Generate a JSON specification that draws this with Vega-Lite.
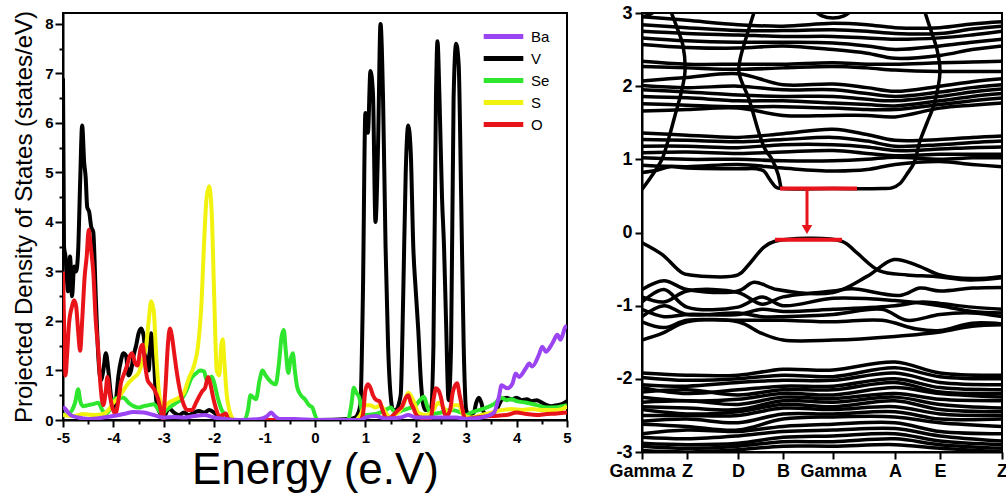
{
"$schema": "https://vega.github.io/schema/vega-lite/v6.json",
"background": "white",
"padding": {"left": 11, "top": 3, "right": 0, "bottom": 0},
"spacing": 34,
"config": {
  "view": {"stroke": "black", "strokeWidth": 2},
  "axis": {"domainColor": "black", "domainWidth": 2, "tickColor": "black", "tickWidth": 2, "labelColor": "black", "titleColor": "black", "labelFont": "Liberation Sans", "titleFont": "Liberation Sans", "labelFontWeight": "bold", "grid": false, "labelFlush": false, "labelOverlap": false, "labelBound": false}
},
"hconcat": [
{
  "width": 504, "height": 407,
  "data": {"values": [
{"s":"V","e":-5.0,"d":6.9},{"s":"V","e":-4.98,"d":3.5},{"s":"V","e":-4.95,"d":3.3},{"s":"V","e":-4.9,"d":2.6},{"s":"V","e":-4.86,"d":3.3},{"s":"V","e":-4.82,"d":2.5},{"s":"V","e":-4.78,"d":3.1},{"s":"V","e":-4.74,"d":3.0},{"s":"V","e":-4.7,"d":3.4},{"s":"V","e":-4.66,"d":4.8},{"s":"V","e":-4.62,"d":5.95},{"s":"V","e":-4.58,"d":5.2},{"s":"V","e":-4.55,"d":4.9},{"s":"V","e":-4.52,"d":4.3},{"s":"V","e":-4.48,"d":4.2},{"s":"V","e":-4.44,"d":3.9},{"s":"V","e":-4.4,"d":3.8},{"s":"V","e":-4.35,"d":2.5},{"s":"V","e":-4.3,"d":1.3},{"s":"V","e":-4.25,"d":0.8},{"s":"V","e":-4.2,"d":1.0},{"s":"V","e":-4.15,"d":1.35},{"s":"V","e":-4.1,"d":1.0},{"s":"V","e":-4.05,"d":0.5},{"s":"V","e":-4.0,"d":0.25},{"s":"V","e":-3.95,"d":0.4},{"s":"V","e":-3.9,"d":0.9},{"s":"V","e":-3.85,"d":1.2},{"s":"V","e":-3.8,"d":1.35},{"s":"V","e":-3.75,"d":1.3},{"s":"V","e":-3.7,"d":0.9},{"s":"V","e":-3.65,"d":1.0},{"s":"V","e":-3.6,"d":1.3},{"s":"V","e":-3.55,"d":1.5},{"s":"V","e":-3.5,"d":1.75},{"s":"V","e":-3.45,"d":1.85},{"s":"V","e":-3.4,"d":1.7},{"s":"V","e":-3.35,"d":1.2},{"s":"V","e":-3.3,"d":1.0},{"s":"V","e":-3.25,"d":1.75},{"s":"V","e":-3.2,"d":1.3},{"s":"V","e":-3.15,"d":0.4},{"s":"V","e":-3.1,"d":0.2},{"s":"V","e":-3.05,"d":0.1},{"s":"V","e":-3.0,"d":0.05},{"s":"V","e":-2.95,"d":0.15},{"s":"V","e":-2.9,"d":0.25},{"s":"V","e":-2.85,"d":0.2},{"s":"V","e":-2.8,"d":0.15},{"s":"V","e":-2.7,"d":0.1},{"s":"V","e":-2.6,"d":0.15},{"s":"V","e":-2.5,"d":0.1},{"s":"V","e":-2.4,"d":0.15},{"s":"V","e":-2.3,"d":0.18},{"s":"V","e":-2.2,"d":0.15},{"s":"V","e":-2.1,"d":0.2},{"s":"V","e":-2.0,"d":0.15},{"s":"V","e":-1.9,"d":0.05},{"s":"V","e":-1.8,"d":0.02},{"s":"V","e":-1.6,"d":0.0},{"s":"V","e":0.0,"d":0.0},{"s":"V","e":0.7,"d":0.02},{"s":"V","e":0.8,"d":0.05},{"s":"V","e":0.9,"d":0.3},{"s":"V","e":0.95,"d":2.5},{"s":"V","e":1.0,"d":6.2},{"s":"V","e":1.05,"d":5.8},{"s":"V","e":1.1,"d":7.05},{"s":"V","e":1.15,"d":6.6},{"s":"V","e":1.2,"d":4.0},{"s":"V","e":1.25,"d":5.5},{"s":"V","e":1.3,"d":8.0},{"s":"V","e":1.35,"d":6.5},{"s":"V","e":1.4,"d":3.5},{"s":"V","e":1.45,"d":1.5},{"s":"V","e":1.5,"d":0.5},{"s":"V","e":1.55,"d":0.2},{"s":"V","e":1.6,"d":0.2},{"s":"V","e":1.7,"d":0.5},{"s":"V","e":1.75,"d":2.5},{"s":"V","e":1.8,"d":5.0},{"s":"V","e":1.85,"d":5.95},{"s":"V","e":1.9,"d":5.4},{"s":"V","e":1.95,"d":3.5},{"s":"V","e":2.0,"d":2.6},{"s":"V","e":2.05,"d":1.8},{"s":"V","e":2.1,"d":0.8},{"s":"V","e":2.15,"d":0.3},{"s":"V","e":2.2,"d":0.2},{"s":"V","e":2.3,"d":0.25},{"s":"V","e":2.35,"d":1.5},{"s":"V","e":2.4,"d":6.5},{"s":"V","e":2.43,"d":7.65},{"s":"V","e":2.47,"d":6.5},{"s":"V","e":2.52,"d":4.5},{"s":"V","e":2.56,"d":3.5},{"s":"V","e":2.6,"d":2.0},{"s":"V","e":2.65,"d":0.4},{"s":"V","e":2.7,"d":1.5},{"s":"V","e":2.75,"d":6.5},{"s":"V","e":2.8,"d":7.6},{"s":"V","e":2.85,"d":7.2},{"s":"V","e":2.9,"d":4.5},{"s":"V","e":2.95,"d":1.5},{"s":"V","e":3.0,"d":0.2},{"s":"V","e":3.05,"d":0.1},{"s":"V","e":3.15,"d":0.15},{"s":"V","e":3.2,"d":0.35},{"s":"V","e":3.25,"d":0.45},{"s":"V","e":3.3,"d":0.35},{"s":"V","e":3.35,"d":0.15},{"s":"V","e":3.45,"d":0.1},{"s":"V","e":3.6,"d":0.2},{"s":"V","e":3.7,"d":0.4},{"s":"V","e":3.8,"d":0.45},{"s":"V","e":3.9,"d":0.42},{"s":"V","e":4.0,"d":0.45},{"s":"V","e":4.1,"d":0.4},{"s":"V","e":4.2,"d":0.42},{"s":"V","e":4.3,"d":0.38},{"s":"V","e":4.4,"d":0.4},{"s":"V","e":4.5,"d":0.35},{"s":"V","e":4.6,"d":0.3},{"s":"V","e":4.7,"d":0.28},{"s":"V","e":4.8,"d":0.3},{"s":"V","e":4.9,"d":0.32},{"s":"V","e":5.0,"d":0.38},
{"s":"Se","e":-5.0,"d":0.1},{"s":"Se","e":-4.9,"d":0.12},{"s":"Se","e":-4.82,"d":0.2},{"s":"Se","e":-4.76,"d":0.35},{"s":"Se","e":-4.7,"d":0.62},{"s":"Se","e":-4.65,"d":0.35},{"s":"Se","e":-4.6,"d":0.28},{"s":"Se","e":-4.5,"d":0.3},{"s":"Se","e":-4.4,"d":0.32},{"s":"Se","e":-4.3,"d":0.35},{"s":"Se","e":-4.22,"d":0.2},{"s":"Se","e":-4.15,"d":0.12},{"s":"Se","e":-4.05,"d":0.25},{"s":"Se","e":-3.98,"d":0.42},{"s":"Se","e":-3.9,"d":0.45},{"s":"Se","e":-3.8,"d":0.45},{"s":"Se","e":-3.7,"d":0.35},{"s":"Se","e":-3.6,"d":0.28},{"s":"Se","e":-3.5,"d":0.25},{"s":"Se","e":-3.4,"d":0.28},{"s":"Se","e":-3.3,"d":0.3},{"s":"Se","e":-3.2,"d":0.32},{"s":"Se","e":-3.1,"d":0.2},{"s":"Se","e":-3.03,"d":0.12},{"s":"Se","e":-2.95,"d":0.2},{"s":"Se","e":-2.85,"d":0.28},{"s":"Se","e":-2.75,"d":0.35},{"s":"Se","e":-2.65,"d":0.42},{"s":"Se","e":-2.55,"d":0.6},{"s":"Se","e":-2.45,"d":0.85},{"s":"Se","e":-2.35,"d":0.95},{"s":"Se","e":-2.28,"d":1.0},{"s":"Se","e":-2.2,"d":0.98},{"s":"Se","e":-2.15,"d":0.8},{"s":"Se","e":-2.1,"d":0.82},{"s":"Se","e":-2.05,"d":0.88},{"s":"Se","e":-2.0,"d":0.75},{"s":"Se","e":-1.93,"d":0.45},{"s":"Se","e":-1.85,"d":0.2},{"s":"Se","e":-1.75,"d":0.08},{"s":"Se","e":-1.65,"d":0.0},{"s":"Se","e":-1.4,"d":0.0},{"s":"Se","e":-1.33,"d":0.2},{"s":"Se","e":-1.28,"d":0.5},{"s":"Se","e":-1.22,"d":0.45},{"s":"Se","e":-1.17,"d":0.42},{"s":"Se","e":-1.1,"d":0.8},{"s":"Se","e":-1.04,"d":1.0},{"s":"Se","e":-0.98,"d":0.9},{"s":"Se","e":-0.92,"d":0.82},{"s":"Se","e":-0.85,"d":0.75},{"s":"Se","e":-0.78,"d":0.72},{"s":"Se","e":-0.72,"d":1.1},{"s":"Se","e":-0.66,"d":1.7},{"s":"Se","e":-0.62,"d":1.82},{"s":"Se","e":-0.58,"d":1.4},{"s":"Se","e":-0.53,"d":0.95},{"s":"Se","e":-0.49,"d":1.2},{"s":"Se","e":-0.44,"d":1.35},{"s":"Se","e":-0.4,"d":1.0},{"s":"Se","e":-0.35,"d":0.65},{"s":"Se","e":-0.28,"d":0.5},{"s":"Se","e":-0.2,"d":0.42},{"s":"Se","e":-0.12,"d":0.3},{"s":"Se","e":-0.05,"d":0.25},{"s":"Se","e":0.0,"d":0.1},{"s":"Se","e":0.05,"d":0.0},{"s":"Se","e":0.65,"d":0.0},{"s":"Se","e":0.72,"d":0.3},{"s":"Se","e":0.77,"d":0.65},{"s":"Se","e":0.82,"d":0.55},{"s":"Se","e":0.88,"d":0.45},{"s":"Se","e":0.94,"d":0.15},{"s":"Se","e":1.0,"d":0.1},{"s":"Se","e":1.2,"d":0.12},{"s":"Se","e":1.4,"d":0.2},{"s":"Se","e":1.5,"d":0.25},{"s":"Se","e":1.6,"d":0.15},{"s":"Se","e":1.75,"d":0.2},{"s":"Se","e":1.9,"d":0.25},{"s":"Se","e":2.0,"d":0.3},{"s":"Se","e":2.1,"d":0.42},{"s":"Se","e":2.16,"d":0.47},{"s":"Se","e":2.22,"d":0.3},{"s":"Se","e":2.3,"d":0.12},{"s":"Se","e":2.5,"d":0.15},{"s":"Se","e":2.7,"d":0.2},{"s":"Se","e":2.9,"d":0.15},{"s":"Se","e":3.0,"d":0.1},{"s":"Se","e":3.1,"d":0.15},{"s":"Se","e":3.25,"d":0.2},{"s":"Se","e":3.4,"d":0.25},{"s":"Se","e":3.55,"d":0.32},{"s":"Se","e":3.7,"d":0.45},{"s":"Se","e":3.8,"d":0.4},{"s":"Se","e":3.9,"d":0.42},{"s":"Se","e":4.0,"d":0.38},{"s":"Se","e":4.2,"d":0.35},{"s":"Se","e":4.4,"d":0.3},{"s":"Se","e":4.6,"d":0.25},{"s":"Se","e":4.8,"d":0.26},{"s":"Se","e":5.0,"d":0.3},
{"s":"S","e":-5.0,"d":0.1},{"s":"S","e":-4.8,"d":0.08},{"s":"S","e":-4.6,"d":0.12},{"s":"S","e":-4.4,"d":0.1},{"s":"S","e":-4.2,"d":0.12},{"s":"S","e":-4.1,"d":0.2},{"s":"S","e":-4.0,"d":0.35},{"s":"S","e":-3.9,"d":0.45},{"s":"S","e":-3.8,"d":0.6},{"s":"S","e":-3.7,"d":0.75},{"s":"S","e":-3.6,"d":0.85},{"s":"S","e":-3.5,"d":0.95},{"s":"S","e":-3.42,"d":1.2},{"s":"S","e":-3.35,"d":1.5},{"s":"S","e":-3.3,"d":2.0},{"s":"S","e":-3.25,"d":2.4},{"s":"S","e":-3.2,"d":2.2},{"s":"S","e":-3.15,"d":1.3},{"s":"S","e":-3.1,"d":0.6},{"s":"S","e":-3.05,"d":0.3},{"s":"S","e":-3.0,"d":0.25},{"s":"S","e":-2.9,"d":0.35},{"s":"S","e":-2.8,"d":0.4},{"s":"S","e":-2.7,"d":0.45},{"s":"S","e":-2.6,"d":0.55},{"s":"S","e":-2.5,"d":0.85},{"s":"S","e":-2.4,"d":1.1},{"s":"S","e":-2.32,"d":1.5},{"s":"S","e":-2.25,"d":2.4},{"s":"S","e":-2.2,"d":3.6},{"s":"S","e":-2.15,"d":4.5},{"s":"S","e":-2.1,"d":4.72},{"s":"S","e":-2.05,"d":4.2},{"s":"S","e":-2.0,"d":2.5},{"s":"S","e":-1.95,"d":1.0},{"s":"S","e":-1.9,"d":0.9},{"s":"S","e":-1.86,"d":1.5},{"s":"S","e":-1.83,"d":1.63},{"s":"S","e":-1.8,"d":1.2},{"s":"S","e":-1.75,"d":0.5},{"s":"S","e":-1.7,"d":0.2},{"s":"S","e":-1.65,"d":0.05},{"s":"S","e":-1.6,"d":0.0},{"s":"S","e":0.8,"d":0.0},{"s":"S","e":0.9,"d":0.1},{"s":"S","e":1.0,"d":0.3},{"s":"S","e":1.1,"d":0.3},{"s":"S","e":1.2,"d":0.25},{"s":"S","e":1.3,"d":0.3},{"s":"S","e":1.4,"d":0.15},{"s":"S","e":1.5,"d":0.05},{"s":"S","e":1.6,"d":0.1},{"s":"S","e":1.75,"d":0.3},{"s":"S","e":1.85,"d":0.55},{"s":"S","e":1.95,"d":0.4},{"s":"S","e":2.05,"d":0.15},{"s":"S","e":2.2,"d":0.1},{"s":"S","e":2.35,"d":0.2},{"s":"S","e":2.45,"d":0.35},{"s":"S","e":2.55,"d":0.25},{"s":"S","e":2.65,"d":0.15},{"s":"S","e":2.75,"d":0.3},{"s":"S","e":2.85,"d":0.3},{"s":"S","e":2.95,"d":0.1},{"s":"S","e":3.1,"d":0.05},{"s":"S","e":3.3,"d":0.1},{"s":"S","e":3.5,"d":0.15},{"s":"S","e":3.7,"d":0.2},{"s":"S","e":3.9,"d":0.22},{"s":"S","e":4.1,"d":0.2},{"s":"S","e":4.3,"d":0.22},{"s":"S","e":4.5,"d":0.2},{"s":"S","e":4.7,"d":0.2},{"s":"S","e":4.9,"d":0.22},{"s":"S","e":5.0,"d":0.28},
{"s":"O","e":-5.0,"d":3.0},{"s":"O","e":-4.97,"d":1.5},{"s":"O","e":-4.95,"d":0.9},{"s":"O","e":-4.92,"d":1.3},{"s":"O","e":-4.88,"d":1.95},{"s":"O","e":-4.82,"d":2.3},{"s":"O","e":-4.78,"d":2.42},{"s":"O","e":-4.74,"d":2.3},{"s":"O","e":-4.7,"d":1.8},{"s":"O","e":-4.66,"d":1.4},{"s":"O","e":-4.62,"d":2.0},{"s":"O","e":-4.57,"d":2.9},{"s":"O","e":-4.53,"d":3.3},{"s":"O","e":-4.49,"d":3.84},{"s":"O","e":-4.45,"d":3.5},{"s":"O","e":-4.4,"d":3.0},{"s":"O","e":-4.35,"d":2.0},{"s":"O","e":-4.3,"d":1.4},{"s":"O","e":-4.26,"d":0.75},{"s":"O","e":-4.2,"d":0.3},{"s":"O","e":-4.15,"d":0.6},{"s":"O","e":-4.12,"d":0.87},{"s":"O","e":-4.07,"d":0.5},{"s":"O","e":-4.02,"d":0.25},{"s":"O","e":-3.96,"d":0.13},{"s":"O","e":-3.9,"d":0.4},{"s":"O","e":-3.85,"d":0.75},{"s":"O","e":-3.8,"d":0.9},{"s":"O","e":-3.73,"d":1.1},{"s":"O","e":-3.68,"d":1.28},{"s":"O","e":-3.63,"d":1.35},{"s":"O","e":-3.57,"d":1.15},{"s":"O","e":-3.52,"d":1.1},{"s":"O","e":-3.46,"d":1.45},{"s":"O","e":-3.42,"d":1.52},{"s":"O","e":-3.37,"d":1.1},{"s":"O","e":-3.32,"d":0.8},{"s":"O","e":-3.25,"d":0.7},{"s":"O","e":-3.18,"d":0.6},{"s":"O","e":-3.12,"d":0.45},{"s":"O","e":-3.06,"d":0.2},{"s":"O","e":-3.02,"d":0.02},{"s":"O","e":-2.97,"d":0.6},{"s":"O","e":-2.92,"d":1.5},{"s":"O","e":-2.88,"d":1.85},{"s":"O","e":-2.84,"d":1.7},{"s":"O","e":-2.8,"d":1.4},{"s":"O","e":-2.74,"d":0.95},{"s":"O","e":-2.68,"d":0.6},{"s":"O","e":-2.6,"d":0.3},{"s":"O","e":-2.52,"d":0.2},{"s":"O","e":-2.44,"d":0.2},{"s":"O","e":-2.36,"d":0.35},{"s":"O","e":-2.3,"d":0.47},{"s":"O","e":-2.24,"d":0.58},{"s":"O","e":-2.18,"d":0.65},{"s":"O","e":-2.12,"d":0.87},{"s":"O","e":-2.07,"d":0.7},{"s":"O","e":-2.02,"d":0.45},{"s":"O","e":-1.97,"d":0.25},{"s":"O","e":-1.9,"d":0.08},{"s":"O","e":-1.83,"d":0.1},{"s":"O","e":-1.77,"d":0.13},{"s":"O","e":-1.72,"d":0.02},{"s":"O","e":-1.65,"d":0.0},{"s":"O","e":0.9,"d":0.0},{"s":"O","e":0.95,"d":0.1},{"s":"O","e":1.0,"d":0.6},{"s":"O","e":1.05,"d":0.72},{"s":"O","e":1.1,"d":0.65},{"s":"O","e":1.15,"d":0.5},{"s":"O","e":1.22,"d":0.4},{"s":"O","e":1.28,"d":0.38},{"s":"O","e":1.34,"d":0.2},{"s":"O","e":1.42,"d":0.03},{"s":"O","e":1.5,"d":0.05},{"s":"O","e":1.57,"d":0.12},{"s":"O","e":1.65,"d":0.2},{"s":"O","e":1.73,"d":0.28},{"s":"O","e":1.8,"d":0.45},{"s":"O","e":1.85,"d":0.5},{"s":"O","e":1.9,"d":0.35},{"s":"O","e":1.95,"d":0.25},{"s":"O","e":2.0,"d":0.12},{"s":"O","e":2.08,"d":0.05},{"s":"O","e":2.2,"d":0.03},{"s":"O","e":2.3,"d":0.05},{"s":"O","e":2.35,"d":0.4},{"s":"O","e":2.4,"d":0.64},{"s":"O","e":2.45,"d":0.6},{"s":"O","e":2.5,"d":0.45},{"s":"O","e":2.55,"d":0.2},{"s":"O","e":2.6,"d":0.07},{"s":"O","e":2.68,"d":0.2},{"s":"O","e":2.73,"d":0.55},{"s":"O","e":2.78,"d":0.7},{"s":"O","e":2.82,"d":0.74},{"s":"O","e":2.87,"d":0.5},{"s":"O","e":2.92,"d":0.25},{"s":"O","e":2.98,"d":0.02},{"s":"O","e":3.2,"d":0.05},{"s":"O","e":3.5,"d":0.08},{"s":"O","e":3.8,"d":0.1},{"s":"O","e":4.0,"d":0.15},{"s":"O","e":4.2,"d":0.12},{"s":"O","e":4.4,"d":0.1},{"s":"O","e":4.6,"d":0.12},{"s":"O","e":4.8,"d":0.13},{"s":"O","e":5.0,"d":0.15},
{"s":"Ba","e":-5.0,"d":0.27},{"s":"Ba","e":-4.95,"d":0.22},{"s":"Ba","e":-4.9,"d":0.15},{"s":"Ba","e":-4.85,"d":0.1},{"s":"Ba","e":-4.7,"d":0.05},{"s":"Ba","e":-4.5,"d":0.02},{"s":"Ba","e":-4.2,"d":0.05},{"s":"Ba","e":-4.0,"d":0.08},{"s":"Ba","e":-3.8,"d":0.12},{"s":"Ba","e":-3.6,"d":0.16},{"s":"Ba","e":-3.4,"d":0.15},{"s":"Ba","e":-3.2,"d":0.1},{"s":"Ba","e":-3.0,"d":0.05},{"s":"Ba","e":-2.8,"d":0.06},{"s":"Ba","e":-2.6,"d":0.05},{"s":"Ba","e":-2.4,"d":0.08},{"s":"Ba","e":-2.2,"d":0.1},{"s":"Ba","e":-2.0,"d":0.05},{"s":"Ba","e":-1.8,"d":0.02},{"s":"Ba","e":-1.5,"d":0.0},{"s":"Ba","e":-1.1,"d":0.02},{"s":"Ba","e":-0.95,"d":0.08},{"s":"Ba","e":-0.87,"d":0.15},{"s":"Ba","e":-0.8,"d":0.08},{"s":"Ba","e":-0.7,"d":0.02},{"s":"Ba","e":-0.4,"d":0.02},{"s":"Ba","e":0.0,"d":0.0},{"s":"Ba","e":0.9,"d":0.0},{"s":"Ba","e":1.0,"d":0.05},{"s":"Ba","e":1.2,"d":0.08},{"s":"Ba","e":1.4,"d":0.03},{"s":"Ba","e":1.7,"d":0.05},{"s":"Ba","e":1.85,"d":0.1},{"s":"Ba","e":2.0,"d":0.05},{"s":"Ba","e":2.4,"d":0.05},{"s":"Ba","e":2.8,"d":0.05},{"s":"Ba","e":3.0,"d":0.02},{"s":"Ba","e":3.3,"d":0.05},{"s":"Ba","e":3.55,"d":0.15},{"s":"Ba","e":3.65,"d":0.47},{"s":"Ba","e":3.7,"d":0.7},{"s":"Ba","e":3.82,"d":0.64},{"s":"Ba","e":3.92,"d":0.74},{"s":"Ba","e":3.98,"d":0.94},{"s":"Ba","e":4.05,"d":0.87},{"s":"Ba","e":4.18,"d":1.04},{"s":"Ba","e":4.25,"d":1.14},{"s":"Ba","e":4.31,"d":1.08},{"s":"Ba","e":4.44,"d":1.31},{"s":"Ba","e":4.51,"d":1.48},{"s":"Ba","e":4.58,"d":1.38},{"s":"Ba","e":4.71,"d":1.55},{"s":"Ba","e":4.81,"d":1.72},{"s":"Ba","e":4.87,"d":1.62},{"s":"Ba","e":4.97,"d":1.88},{"s":"Ba","e":5.0,"d":1.9}
  ]},
  "mark": {"type": "line", "strokeWidth": 4, "interpolate": "monotone", "clip": true},
  "encoding": {
    "x": {"field": "e", "type": "quantitative", "scale": {"domain": [-5, 5], "nice": false, "zero": false},
      "axis": {"title": "Energy (e.V)", "titleFontSize": 44, "titleFontWeight": "normal", "titlePadding": 3,
        "values": [-5,-4.5,-4,-3.5,-3,-2.5,-2,-1.5,-1,-0.5,0,0.5,1,1.5,2,2.5,3,3.5,4,4.5,5],
        "labelExpr": "datum.value % 1 === 0 ? '' + datum.value : ''",
        "tickSize": {"condition": {"test": "datum.value % 1 !== 0", "value": 4}, "value": 7},
        "labelFontSize": 15, "labelPadding": 3}},
    "y": {"field": "d", "type": "quantitative", "scale": {"domain": [0, 8.22], "nice": false},
      "axis": {"title": "Projected Density of States (states/eV)", "titleFontSize": 24, "titleFontWeight": "normal", "titlePadding": 8,
        "values": [0,0.5,1,1.5,2,2.5,3,3.5,4,4.5,5,5.5,6,6.5,7,7.5,8],
        "labelExpr": "datum.value % 1 === 0 ? '' + datum.value : ''",
        "tickSize": {"condition": {"test": "datum.value % 1 !== 0", "value": 4}, "value": 8},
        "labelFontSize": 15, "labelPadding": 2}},
    "color": {"field": "s", "type": "nominal",
      "scale": {"domain": ["Ba", "V", "Se", "S", "O"], "range": ["#9b45f2", "#000000", "#2ee62e", "#f2f20f", "#e8141a"]},
      "legend": {"title": null, "orient": "none", "legendX": 429, "legendY": 12, "padding": 0,
        "symbolType": "M-2.2,0H2.2", "symbolSize": 324, "symbolStrokeWidth": 5,
        "labelFont": "Liberation Sans", "labelFontSize": 15, "labelColor": "black", "labelOffset": 16, "rowPadding": 0}}
  }
},
{
  "width": 360, "height": 439,
  "layer": [
  {
    "data": {"values": [
{"b":"c1","k":0,"E":0.82},{"b":"c1","k":15,"E":0.85},{"b":"c1","k":28,"E":0.9},{"b":"c1","k":45,"E":0.88},{"b":"c1","k":96,"E":0.87},{"b":"c1","k":115,"E":0.87},{"b":"c1","k":122,"E":0.84},{"b":"c1","k":128,"E":0.72},{"b":"c1","k":134,"E":0.62},{"b":"c1","k":141,"E":0.6},{"b":"c1","k":191,"E":0.6},{"b":"c1","k":240,"E":0.6},{"b":"c1","k":250,"E":0.61},{"b":"c1","k":258,"E":0.67},{"b":"c1","k":265,"E":0.8},{"b":"c1","k":272,"E":0.95},{"b":"c1","k":278,"E":1.25},{"b":"c1","k":285,"E":1.5},{"b":"c1","k":292,"E":1.75},{"b":"c1","k":298,"E":2.2},{"b":"c1","k":295,"E":2.5},{"b":"c1","k":288,"E":2.8},{"b":"c1","k":282,"E":3.05},
{"b":"s1","k":0,"E":0.59},{"b":"s1","k":10,"E":0.78},{"b":"s1","k":20,"E":1.0},{"b":"s1","k":27,"E":1.3},{"b":"s1","k":33,"E":1.6},{"b":"s1","k":39,"E":1.9},{"b":"s1","k":43,"E":2.2},{"b":"s1","k":41,"E":2.55},{"b":"s1","k":35,"E":2.8},{"b":"s1","k":28,"E":3.05},
{"b":"s2","k":139,"E":0.6},{"b":"s2","k":136,"E":0.8},{"b":"s2","k":130,"E":1.0},{"b":"s2","k":123,"E":1.14},{"b":"s2","k":117,"E":1.36},{"b":"s2","k":107,"E":1.82},{"b":"s2","k":97,"E":2.18},{"b":"s2","k":98,"E":2.36},{"b":"s2","k":105,"E":2.7},{"b":"s2","k":113,"E":3.05},
{"b":"t1","k":170,"E":3.06},{"b":"t1","k":180,"E":2.96},{"b":"t1","k":191,"E":2.93},{"b":"t1","k":202,"E":2.96},{"b":"t1","k":212,"E":3.06},
{"b":"t2","k":0,"E":2.95},{"b":"t2","k":8,"E":2.98},{"b":"t2","k":16,"E":3.06},
{"b":"c2","k":0,"E":0.92},{"b":"c2","k":45,"E":0.9},{"b":"c2","k":96,"E":0.93},{"b":"c2","k":141,"E":0.88},{"b":"c2","k":191,"E":0.84},{"b":"c2","k":225,"E":0.86},{"b":"c2","k":253,"E":0.93},{"b":"c2","k":298,"E":0.97},{"b":"c2","k":330,"E":0.93},{"b":"c2","k":360,"E":0.9},
{"b":"c3","k":0,"E":1.02},{"b":"c3","k":45,"E":1.0},{"b":"c3","k":96,"E":1.0},{"b":"c3","k":141,"E":0.98},{"b":"c3","k":191,"E":0.98},{"b":"c3","k":225,"E":1.0},{"b":"c3","k":253,"E":1.03},{"b":"c3","k":298,"E":1.0},{"b":"c3","k":330,"E":1.02},{"b":"c3","k":360,"E":1.02},
{"b":"c4","k":0,"E":1.09},{"b":"c4","k":45,"E":1.1},{"b":"c4","k":96,"E":1.08},{"b":"c4","k":141,"E":1.1},{"b":"c4","k":191,"E":1.12},{"b":"c4","k":225,"E":1.08},{"b":"c4","k":253,"E":1.05},{"b":"c4","k":298,"E":1.07},{"b":"c4","k":330,"E":1.07},{"b":"c4","k":360,"E":1.07},
{"b":"c5","k":0,"E":1.18},{"b":"c5","k":45,"E":1.18},{"b":"c5","k":96,"E":1.16},{"b":"c5","k":141,"E":1.2},{"b":"c5","k":191,"E":1.2},{"b":"c5","k":225,"E":1.17},{"b":"c5","k":253,"E":1.12},{"b":"c5","k":298,"E":1.14},{"b":"c5","k":330,"E":1.16},{"b":"c5","k":360,"E":1.17},
{"b":"c6","k":0,"E":1.27},{"b":"c6","k":45,"E":1.26},{"b":"c6","k":96,"E":1.24},{"b":"c6","k":141,"E":1.27},{"b":"c6","k":191,"E":1.3},{"b":"c6","k":225,"E":1.25},{"b":"c6","k":253,"E":1.18},{"b":"c6","k":298,"E":1.2},{"b":"c6","k":330,"E":1.23},{"b":"c6","k":360,"E":1.25},
{"b":"c7","k":0,"E":1.36},{"b":"c7","k":45,"E":1.33},{"b":"c7","k":96,"E":1.3},{"b":"c7","k":141,"E":1.35},{"b":"c7","k":191,"E":1.41},{"b":"c7","k":225,"E":1.34},{"b":"c7","k":253,"E":1.26},{"b":"c7","k":298,"E":1.27},{"b":"c7","k":330,"E":1.3},{"b":"c7","k":360,"E":1.32},
{"b":"c8","k":0,"E":1.66},{"b":"c8","k":45,"E":1.68},{"b":"c8","k":96,"E":1.7},{"b":"c8","k":141,"E":1.6},{"b":"c8","k":191,"E":1.6},{"b":"c8","k":225,"E":1.6},{"b":"c8","k":253,"E":1.58},{"b":"c8","k":298,"E":1.7},{"b":"c8","k":330,"E":1.74},{"b":"c8","k":360,"E":1.77},
{"b":"c9","k":0,"E":1.76},{"b":"c9","k":45,"E":1.74},{"b":"c9","k":96,"E":1.72},{"b":"c9","k":141,"E":1.72},{"b":"c9","k":191,"E":1.7},{"b":"c9","k":225,"E":1.68},{"b":"c9","k":253,"E":1.68},{"b":"c9","k":298,"E":1.75},{"b":"c9","k":330,"E":1.8},{"b":"c9","k":360,"E":1.84},
{"b":"c10","k":0,"E":1.86},{"b":"c10","k":45,"E":1.84},{"b":"c10","k":96,"E":1.8},{"b":"c10","k":141,"E":1.8},{"b":"c10","k":191,"E":1.77},{"b":"c10","k":225,"E":1.75},{"b":"c10","k":253,"E":1.73},{"b":"c10","k":298,"E":1.8},{"b":"c10","k":330,"E":1.86},{"b":"c10","k":360,"E":1.9},
{"b":"c11","k":0,"E":1.95},{"b":"c11","k":45,"E":1.92},{"b":"c11","k":96,"E":1.88},{"b":"c11","k":141,"E":1.86},{"b":"c11","k":191,"E":1.86},{"b":"c11","k":225,"E":1.82},{"b":"c11","k":253,"E":1.8},{"b":"c11","k":298,"E":1.86},{"b":"c11","k":330,"E":1.92},{"b":"c11","k":360,"E":1.96},
{"b":"c12","k":0,"E":2.01},{"b":"c12","k":45,"E":1.98},{"b":"c12","k":96,"E":2.0},{"b":"c12","k":141,"E":1.95},{"b":"c12","k":191,"E":1.95},{"b":"c12","k":225,"E":1.9},{"b":"c12","k":253,"E":1.86},{"b":"c12","k":298,"E":1.92},{"b":"c12","k":330,"E":1.98},{"b":"c12","k":360,"E":2.02},
{"b":"c13","k":0,"E":2.07},{"b":"c13","k":45,"E":2.12},{"b":"c13","k":96,"E":2.17},{"b":"c13","k":141,"E":2.02},{"b":"c13","k":191,"E":2.03},{"b":"c13","k":225,"E":1.98},{"b":"c13","k":253,"E":1.93},{"b":"c13","k":298,"E":2.0},{"b":"c13","k":330,"E":2.06},{"b":"c13","k":360,"E":2.1},
{"b":"c14","k":0,"E":2.27},{"b":"c14","k":45,"E":2.25},{"b":"c14","k":96,"E":2.23},{"b":"c14","k":141,"E":2.25},{"b":"c14","k":191,"E":2.27},{"b":"c14","k":225,"E":2.25},{"b":"c14","k":253,"E":2.22},{"b":"c14","k":298,"E":2.2},{"b":"c14","k":330,"E":2.2},{"b":"c14","k":360,"E":2.2},
{"b":"c15","k":0,"E":2.34},{"b":"c15","k":45,"E":2.3},{"b":"c15","k":96,"E":2.3},{"b":"c15","k":141,"E":2.3},{"b":"c15","k":191,"E":2.32},{"b":"c15","k":225,"E":2.3},{"b":"c15","k":253,"E":2.3},{"b":"c15","k":298,"E":2.32},{"b":"c15","k":330,"E":2.33},{"b":"c15","k":360,"E":2.34},
{"b":"c16","k":0,"E":2.57},{"b":"c16","k":45,"E":2.53},{"b":"c16","k":96,"E":2.52},{"b":"c16","k":141,"E":2.55},{"b":"c16","k":191,"E":2.5},{"b":"c16","k":225,"E":2.45},{"b":"c16","k":253,"E":2.38},{"b":"c16","k":298,"E":2.42},{"b":"c16","k":330,"E":2.5},{"b":"c16","k":360,"E":2.55},
{"b":"c17","k":0,"E":2.66},{"b":"c17","k":45,"E":2.62},{"b":"c17","k":96,"E":2.6},{"b":"c17","k":141,"E":2.6},{"b":"c17","k":191,"E":2.59},{"b":"c17","k":225,"E":2.55},{"b":"c17","k":253,"E":2.5},{"b":"c17","k":298,"E":2.55},{"b":"c17","k":330,"E":2.6},{"b":"c17","k":360,"E":2.64},
{"b":"c18","k":0,"E":2.75},{"b":"c18","k":45,"E":2.72},{"b":"c18","k":96,"E":2.7},{"b":"c18","k":141,"E":2.68},{"b":"c18","k":191,"E":2.68},{"b":"c18","k":225,"E":2.66},{"b":"c18","k":253,"E":2.64},{"b":"c18","k":298,"E":2.66},{"b":"c18","k":330,"E":2.7},{"b":"c18","k":360,"E":2.75},
{"b":"c19","k":0,"E":2.84},{"b":"c19","k":45,"E":2.8},{"b":"c19","k":96,"E":2.76},{"b":"c19","k":141,"E":2.76},{"b":"c19","k":191,"E":2.77},{"b":"c19","k":225,"E":2.75},{"b":"c19","k":253,"E":2.72},{"b":"c19","k":298,"E":2.72},{"b":"c19","k":330,"E":2.78},{"b":"c19","k":360,"E":2.82},
{"b":"c20","k":0,"E":2.95},{"b":"c20","k":45,"E":2.9},{"b":"c20","k":96,"E":2.84},{"b":"c20","k":141,"E":2.82},{"b":"c20","k":191,"E":2.86},{"b":"c20","k":225,"E":2.84},{"b":"c20","k":253,"E":2.8},{"b":"c20","k":298,"E":2.8},{"b":"c20","k":330,"E":2.85},{"b":"c20","k":360,"E":2.88},
{"b":"v1","k":0,"E":-0.14},{"b":"v1","k":20,"E":-0.3},{"b":"v1","k":40,"E":-0.55},{"b":"v1","k":48,"E":-0.58},{"b":"v1","k":96,"E":-0.58},{"b":"v1","k":106,"E":-0.45},{"b":"v1","k":122,"E":-0.2},{"b":"v1","k":133,"E":-0.12},{"b":"v1","k":200,"E":-0.12},{"b":"v1","k":215,"E":-0.28},{"b":"v1","k":237,"E":-0.52},{"b":"v1","k":265,"E":-0.58},{"b":"v1","k":293,"E":-0.6},{"b":"v1","k":327,"E":-0.65},{"b":"v1","k":360,"E":-0.62},
{"b":"v2","k":0,"E":-0.78},{"b":"v2","k":22,"E":-0.66},{"b":"v2","k":45,"E":-0.78},{"b":"v2","k":96,"E":-0.8},{"b":"v2","k":112,"E":-0.68},{"b":"v2","k":135,"E":-0.78},{"b":"v2","k":191,"E":-0.82},{"b":"v2","k":225,"E":-0.6},{"b":"v2","k":252,"E":-0.37},{"b":"v2","k":275,"E":-0.45},{"b":"v2","k":298,"E":-0.58},{"b":"v2","k":330,"E":-0.63},{"b":"v2","k":360,"E":-0.6},
{"b":"v3","k":0,"E":-0.88},{"b":"v3","k":22,"E":-0.95},{"b":"v3","k":45,"E":-0.8},{"b":"v3","k":96,"E":-0.82},{"b":"v3","k":120,"E":-0.98},{"b":"v3","k":141,"E":-0.88},{"b":"v3","k":191,"E":-0.8},{"b":"v3","k":210,"E":-0.77},{"b":"v3","k":258,"E":-0.86},{"b":"v3","k":278,"E":-0.76},{"b":"v3","k":298,"E":-0.8},{"b":"v3","k":330,"E":-0.76},{"b":"v3","k":360,"E":-0.75},
{"b":"v4","k":0,"E":-0.95},{"b":"v4","k":22,"E":-0.78},{"b":"v4","k":45,"E":-1.02},{"b":"v4","k":96,"E":-1.02},{"b":"v4","k":120,"E":-0.88},{"b":"v4","k":141,"E":-1.0},{"b":"v4","k":191,"E":-0.9},{"b":"v4","k":253,"E":-0.93},{"b":"v4","k":298,"E":-1.0},{"b":"v4","k":330,"E":-1.08},{"b":"v4","k":360,"E":-1.1},
{"b":"v5","k":0,"E":-1.05},{"b":"v5","k":22,"E":-1.15},{"b":"v5","k":45,"E":-1.12},{"b":"v5","k":96,"E":-1.12},{"b":"v5","k":120,"E":-1.05},{"b":"v5","k":141,"E":-1.08},{"b":"v5","k":191,"E":-1.05},{"b":"v5","k":253,"E":-1.0},{"b":"v5","k":280,"E":-0.95},{"b":"v5","k":298,"E":-0.97},{"b":"v5","k":330,"E":-1.02},{"b":"v5","k":360,"E":-1.05},
{"b":"v6","k":0,"E":-1.15},{"b":"v6","k":22,"E":-1.0},{"b":"v6","k":45,"E":-1.12},{"b":"v6","k":96,"E":-1.1},{"b":"v6","k":120,"E":-1.15},{"b":"v6","k":141,"E":-1.15},{"b":"v6","k":191,"E":-1.12},{"b":"v6","k":240,"E":-1.05},{"b":"v6","k":265,"E":-1.2},{"b":"v6","k":298,"E":-1.12},{"b":"v6","k":330,"E":-1.1},{"b":"v6","k":360,"E":-1.15},
{"b":"v7","k":0,"E":-1.22},{"b":"v7","k":22,"E":-1.3},{"b":"v7","k":45,"E":-1.2},{"b":"v7","k":96,"E":-1.2},{"b":"v7","k":120,"E":-1.2},{"b":"v7","k":141,"E":-1.2},{"b":"v7","k":191,"E":-1.22},{"b":"v7","k":240,"E":-1.2},{"b":"v7","k":275,"E":-1.32},{"b":"v7","k":298,"E":-1.34},{"b":"v7","k":330,"E":-1.24},{"b":"v7","k":360,"E":-1.25},
{"b":"v8","k":0,"E":-1.47},{"b":"v8","k":20,"E":-1.38},{"b":"v8","k":45,"E":-1.22},{"b":"v8","k":96,"E":-1.22},{"b":"v8","k":120,"E":-1.38},{"b":"v8","k":141,"E":-1.47},{"b":"v8","k":191,"E":-1.47},{"b":"v8","k":253,"E":-1.42},{"b":"v8","k":298,"E":-1.36},{"b":"v8","k":330,"E":-1.28},{"b":"v8","k":360,"E":-1.26},
{"b":"w1","k":0,"E":-1.92},{"b":"w1","k":45,"E":-1.95},{"b":"w1","k":96,"E":-1.95},{"b":"w1","k":141,"E":-1.87},{"b":"w1","k":191,"E":-1.88},{"b":"w1","k":253,"E":-1.77},{"b":"w1","k":298,"E":-1.92},{"b":"w1","k":360,"E":-1.95},
{"b":"w2","k":0,"E":-1.98},{"b":"w2","k":45,"E":-2.02},{"b":"w2","k":96,"E":-2.0},{"b":"w2","k":141,"E":-1.95},{"b":"w2","k":191,"E":-1.97},{"b":"w2","k":253,"E":-1.85},{"b":"w2","k":298,"E":-1.97},{"b":"w2","k":360,"E":-2.0},
{"b":"w3","k":0,"E":-2.08},{"b":"w3","k":45,"E":-2.1},{"b":"w3","k":96,"E":-2.05},{"b":"w3","k":141,"E":-2.02},{"b":"w3","k":191,"E":-2.02},{"b":"w3","k":253,"E":-1.92},{"b":"w3","k":298,"E":-2.05},{"b":"w3","k":360,"E":-2.08},
{"b":"w4","k":0,"E":-2.12},{"b":"w4","k":45,"E":-2.2},{"b":"w4","k":96,"E":-2.15},{"b":"w4","k":141,"E":-2.1},{"b":"w4","k":191,"E":-2.1},{"b":"w4","k":253,"E":-2.0},{"b":"w4","k":298,"E":-2.12},{"b":"w4","k":360,"E":-2.15},
{"b":"w5","k":0,"E":-2.18},{"b":"w5","k":45,"E":-2.15},{"b":"w5","k":96,"E":-2.22},{"b":"w5","k":141,"E":-2.15},{"b":"w5","k":191,"E":-2.15},{"b":"w5","k":253,"E":-2.05},{"b":"w5","k":298,"E":-2.18},{"b":"w5","k":360,"E":-2.2},
{"b":"w6","k":0,"E":-2.25},{"b":"w6","k":45,"E":-2.3},{"b":"w6","k":96,"E":-2.28},{"b":"w6","k":141,"E":-2.2},{"b":"w6","k":191,"E":-2.22},{"b":"w6","k":253,"E":-2.12},{"b":"w6","k":298,"E":-2.2},{"b":"w6","k":360,"E":-2.25},
{"b":"w7","k":0,"E":-2.32},{"b":"w7","k":45,"E":-2.3},{"b":"w7","k":96,"E":-2.35},{"b":"w7","k":141,"E":-2.25},{"b":"w7","k":191,"E":-2.27},{"b":"w7","k":253,"E":-2.2},{"b":"w7","k":298,"E":-2.28},{"b":"w7","k":360,"E":-2.3},
{"b":"w8","k":0,"E":-2.38},{"b":"w8","k":45,"E":-2.4},{"b":"w8","k":96,"E":-2.42},{"b":"w8","k":141,"E":-2.3},{"b":"w8","k":191,"E":-2.32},{"b":"w8","k":253,"E":-2.25},{"b":"w8","k":298,"E":-2.35},{"b":"w8","k":360,"E":-2.4},
{"b":"w9","k":0,"E":-2.42},{"b":"w9","k":45,"E":-2.48},{"b":"w9","k":96,"E":-2.45},{"b":"w9","k":141,"E":-2.35},{"b":"w9","k":191,"E":-2.38},{"b":"w9","k":253,"E":-2.3},{"b":"w9","k":298,"E":-2.42},{"b":"w9","k":360,"E":-2.45},
{"b":"w10","k":0,"E":-2.5},{"b":"w10","k":45,"E":-2.5},{"b":"w10","k":96,"E":-2.5},{"b":"w10","k":141,"E":-2.4},{"b":"w10","k":191,"E":-2.42},{"b":"w10","k":253,"E":-2.38},{"b":"w10","k":298,"E":-2.48},{"b":"w10","k":360,"E":-2.5},
{"b":"w11","k":0,"E":-2.58},{"b":"w11","k":45,"E":-2.55},{"b":"w11","k":96,"E":-2.6},{"b":"w11","k":141,"E":-2.48},{"b":"w11","k":191,"E":-2.48},{"b":"w11","k":253,"E":-2.45},{"b":"w11","k":298,"E":-2.55},{"b":"w11","k":360,"E":-2.55},
{"b":"w12","k":0,"E":-2.62},{"b":"w12","k":45,"E":-2.65},{"b":"w12","k":96,"E":-2.7},{"b":"w12","k":141,"E":-2.55},{"b":"w12","k":191,"E":-2.52},{"b":"w12","k":253,"E":-2.52},{"b":"w12","k":298,"E":-2.6},{"b":"w12","k":360,"E":-2.65},
{"b":"w13","k":0,"E":-2.75},{"b":"w13","k":45,"E":-2.7},{"b":"w13","k":96,"E":-2.72},{"b":"w13","k":141,"E":-2.65},{"b":"w13","k":191,"E":-2.62},{"b":"w13","k":253,"E":-2.6},{"b":"w13","k":298,"E":-2.72},{"b":"w13","k":360,"E":-2.75},
{"b":"w14","k":0,"E":-2.8},{"b":"w14","k":45,"E":-2.82},{"b":"w14","k":96,"E":-2.78},{"b":"w14","k":141,"E":-2.72},{"b":"w14","k":191,"E":-2.7},{"b":"w14","k":253,"E":-2.68},{"b":"w14","k":298,"E":-2.78},{"b":"w14","k":360,"E":-2.85},
{"b":"w15","k":0,"E":-2.88},{"b":"w15","k":45,"E":-2.9},{"b":"w15","k":96,"E":-2.88},{"b":"w15","k":141,"E":-2.8},{"b":"w15","k":191,"E":-2.78},{"b":"w15","k":253,"E":-2.75},{"b":"w15","k":298,"E":-2.85},{"b":"w15","k":360,"E":-2.9},
{"b":"w16","k":0,"E":-2.92},{"b":"w16","k":45,"E":-2.95},{"b":"w16","k":96,"E":-2.92},{"b":"w16","k":141,"E":-2.86},{"b":"w16","k":191,"E":-2.86},{"b":"w16","k":253,"E":-2.82},{"b":"w16","k":298,"E":-2.9},{"b":"w16","k":360,"E":-2.95},
{"b":"w17","k":0,"E":-2.98},{"b":"w17","k":45,"E":-3.0},{"b":"w17","k":96,"E":-2.97},{"b":"w17","k":141,"E":-2.92},{"b":"w17","k":191,"E":-2.92},{"b":"w17","k":253,"E":-2.9},{"b":"w17","k":298,"E":-2.95},{"b":"w17","k":360,"E":-3.0}
    ]},
    "mark": {"type": "line", "color": "black", "strokeWidth": 3.5, "interpolate": "catmull-rom", "clip": true},
    "encoding": {
      "x": {"field": "k", "type": "quantitative", "scale": {"domain": [0, 360], "nice": false, "zero": false},
        "axis": {"title": null, "values": [0, 45, 96, 141, 191, 253, 298, 360],
          "labelExpr": "datum.value == 0 ? 'Gamma' : datum.value == 45 ? 'Z' : datum.value == 96 ? 'D' : datum.value == 141 ? 'B' : datum.value == 191 ? 'Gamma' : datum.value == 253 ? 'A' : datum.value == 298 ? 'E' : 'Z'",
          "tickSize": 7, "labelFontSize": 18, "labelPadding": 3}},
      "y": {"field": "E", "type": "quantitative", "scale": {"domain": [-3, 3], "nice": false, "zero": false},
        "axis": {"title": null, "values": [-3,-2.5,-2,-1.5,-1,-0.5,0,0.5,1,1.5,2,2.5,3],
          "labelExpr": "datum.value % 1 === 0 ? '' + datum.value : ''",
          "tickSize": {"condition": {"test": "datum.value % 1 !== 0", "value": 4}, "value": 7},
          "labelFontSize": 18, "labelPadding": 3}},
      "detail": {"field": "b"},
      "order": {"value": null}
    }
  },
  {
    "data": {"values": [{"k": 138, "E": 0.6, "k2": 215}, {"k": 133, "E": -0.1, "k2": 200}]},
    "mark": {"type": "rule", "color": "#e8141a", "strokeWidth": 4},
    "encoding": {"x": {"field": "k", "type": "quantitative"}, "x2": {"field": "k2"}, "y": {"field": "E", "type": "quantitative"}}
  },
  {
    "data": {"values": [{"k": 165, "E": 0.6, "E2": 0.1}]},
    "mark": {"type": "rule", "color": "#e8141a", "strokeWidth": 3},
    "encoding": {"x": {"field": "k", "type": "quantitative"}, "y": {"field": "E", "type": "quantitative"}, "y2": {"field": "E2"}}
  },
  {
    "data": {"values": [{"k": 165, "E": 0.04}]},
    "mark": {"type": "point", "shape": "triangle-down", "filled": true, "color": "#e8141a", "size": 110, "opacity": 1},
    "encoding": {"x": {"field": "k", "type": "quantitative"}, "y": {"field": "E", "type": "quantitative"}}
  }
  ]
}
]
}
